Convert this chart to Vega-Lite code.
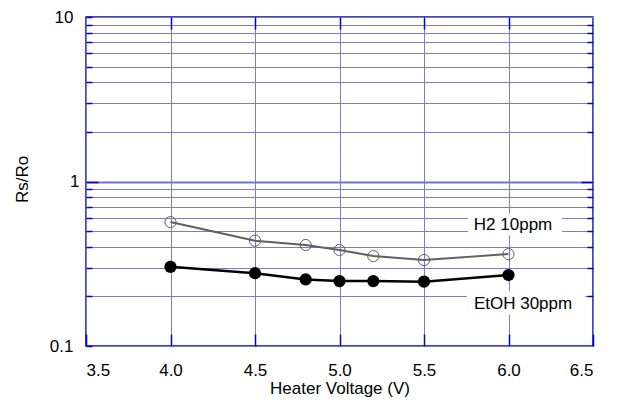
{
  "$schema": "https://vega.github.io/schema/vega-lite/v6.json",
  "width": 507,
  "height": 329,
  "autosize": {"type": "none"},
  "padding": {"left": 86, "top": 17, "right": 25, "bottom": 59},
  "background": "white",
  "config": {
    "view": {"stroke": "#0000cc", "strokeWidth": 1.5},
    "font": "Liberation Sans",
    "axis": {
      "labelFont": "Liberation Sans",
      "titleFont": "Liberation Sans",
      "labelFontSize": 17,
      "titleFontSize": 17,
      "titleFontWeight": "normal",
      "labelColor": "#000000",
      "titleColor": "#000000",
      "domain": false,
      "gridColor": "#7b7bc6",
      "gridOpacity": 1,
      "gridWidth": 1,
      "tickColor": "#0000cc",
      "tickWidth": 1.5
    }
  },
  "datasets": {
    "series": [
      {"voltage": 4.0, "rsro": 0.567, "gas": "H2 10ppm"},
      {"voltage": 4.5, "rsro": 0.437, "gas": "H2 10ppm"},
      {"voltage": 4.8, "rsro": 0.411, "gas": "H2 10ppm"},
      {"voltage": 5.0, "rsro": 0.383, "gas": "H2 10ppm"},
      {"voltage": 5.2, "rsro": 0.352, "gas": "H2 10ppm"},
      {"voltage": 5.5, "rsro": 0.333, "gas": "H2 10ppm"},
      {"voltage": 6.0, "rsro": 0.362, "gas": "H2 10ppm"},
      {"voltage": 4.0, "rsro": 0.303, "gas": "EtOH 30ppm"},
      {"voltage": 4.5, "rsro": 0.277, "gas": "EtOH 30ppm"},
      {"voltage": 4.8, "rsro": 0.254, "gas": "EtOH 30ppm"},
      {"voltage": 5.0, "rsro": 0.248, "gas": "EtOH 30ppm"},
      {"voltage": 5.2, "rsro": 0.248, "gas": "EtOH 30ppm"},
      {"voltage": 5.5, "rsro": 0.246, "gas": "EtOH 30ppm"},
      {"voltage": 6.0, "rsro": 0.270, "gas": "EtOH 30ppm"}
    ],
    "labels": [
      {"label": "H2 10ppm", "x": 6.027, "y": 0.544, "x1": 5.76, "x2": 6.317, "y1": 0.47, "y2": 0.64},
      {"label": "EtOH 30ppm", "x": 6.086, "y": 0.18, "x1": 5.754, "x2": 6.453, "y1": 0.155, "y2": 0.215}
    ]
  },
  "resolve": {"axis": {"x": "independent", "y": "independent"}},
  "layer": [
    {
      "data": {"name": "labels"},
      "mark": {"type": "rect", "fill": "white", "stroke": null},
      "encoding": {
        "x": {
          "field": "x1", "type": "quantitative",
          "scale": {"domain": [3.5, 6.5], "nice": false, "zero": false},
          "axis": {
            "orient": "bottom",
            "values": [3.5, 4.0, 4.5, 5.0, 5.5, 6.0, 6.5],
            "format": ".1f",
            "title": "Heater Voltage (V)",
            "tickSize": -12,
            "labelPadding": 28,
            "titlePadding": 2
          }
        },
        "x2": {"field": "x2"},
        "y": {
          "field": "y1", "type": "quantitative",
          "scale": {"type": "log", "domain": [0.1, 10], "nice": false},
          "axis": {
            "orient": "left",
            "values": [0.1, 0.2, 0.3, 0.4, 0.5, 0.6, 0.7, 0.8, 0.9, 1, 2, 3, 4, 5, 6, 7, 8, 9, 10],
            "labelExpr": "datum.value == 0.1 ? '0.1' : datum.value == 1 ? '1' : datum.value == 10 ? '10' : ''",
            "title": "Rs/Ro",
            "titleX": -55,
            "titleY": 162,
            "tickSize": {"condition": {"test": "datum.value == 1", "value": -12}, "value": -6},
            "gridWidth": {"condition": {"test": "datum.value == 1", "value": 2}, "value": 1},
            "gridColor": {"condition": {"test": "datum.value == 1", "value": "#7070e0"}, "value": "#7b7bc6"},
            "labelPadding": 19
          }
        },
        "y2": {"field": "y2"}
      }
    },
    {
      "data": {"name": "series"},
      "transform": [{"filter": "datum.gas == 'H2 10ppm'"}],
      "mark": {"type": "line", "color": "#606060", "strokeWidth": 2},
      "encoding": {
        "x": {"field": "voltage", "type": "quantitative", "axis": null},
        "y": {"field": "rsro", "type": "quantitative", "axis": null}
      }
    },
    {
      "data": {"name": "series"},
      "transform": [{"filter": "datum.gas == 'H2 10ppm'"}],
      "mark": {"type": "point", "shape": "circle", "filled": false, "stroke": "#606060", "strokeWidth": 1, "size": 125, "opacity": 1},
      "encoding": {
        "x": {"field": "voltage", "type": "quantitative", "axis": null},
        "y": {"field": "rsro", "type": "quantitative", "axis": null}
      }
    },
    {
      "data": {"name": "series"},
      "transform": [{"filter": "datum.gas == 'EtOH 30ppm'"}],
      "mark": {"type": "line", "color": "#000000", "strokeWidth": 2.5},
      "encoding": {
        "x": {"field": "voltage", "type": "quantitative", "axis": null},
        "y": {"field": "rsro", "type": "quantitative", "axis": null}
      }
    },
    {
      "data": {"name": "series"},
      "transform": [{"filter": "datum.gas == 'EtOH 30ppm'"}],
      "mark": {"type": "circle", "color": "#000000", "size": 150, "opacity": 1},
      "encoding": {
        "x": {"field": "voltage", "type": "quantitative", "axis": null},
        "y": {"field": "rsro", "type": "quantitative", "axis": null}
      }
    },
    {
      "data": {"name": "labels"},
      "mark": {"type": "text", "fontSize": 17, "font": "Liberation Sans", "color": "#000000"},
      "encoding": {
        "x": {"field": "x", "type": "quantitative", "axis": null},
        "y": {"field": "y", "type": "quantitative", "axis": null},
        "text": {"field": "label"}
      }
    },
    {
      "data": {"name": "series"},
      "mark": {"type": "point", "opacity": 0},
      "encoding": {
        "x": {
          "field": "voltage", "type": "quantitative",
          "axis": {"orient": "top", "values": [4.0, 4.5, 5.0, 5.5, 6.0], "labels": false, "grid": false, "title": null, "tickSize": -12}
        },
        "y": {
          "field": "rsro", "type": "quantitative",
          "axis": {
            "orient": "right",
            "values": [0.2, 0.3, 0.4, 0.5, 0.6, 0.7, 0.8, 0.9, 1, 2, 3, 4, 5, 6, 7, 8, 9],
            "labels": false, "grid": false, "title": null,
            "tickSize": {"condition": {"test": "datum.value == 1", "value": -12}, "value": -6}
          }
        }
      }
    }
  ]
}
